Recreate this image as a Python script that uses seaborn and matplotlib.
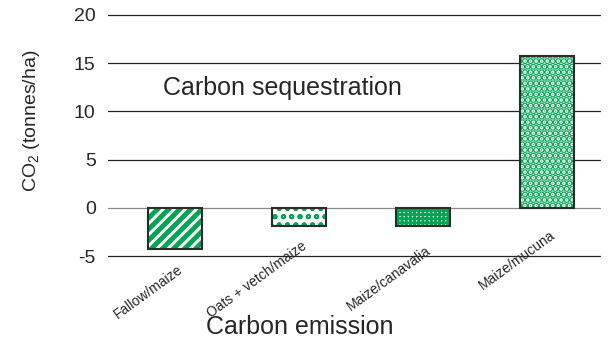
import numpy as np
import pandas as pd
import matplotlib
matplotlib.use('Agg')
import matplotlib.pyplot as plt
import seaborn as sns

# данные с картинки
systems = ['Fallow/maize', 'Oats + vetch/maize', 'Maize/canavalia', 'Maize/mucuna']
co2 = [-4.3, -1.9, -1.9, 15.7]
hatches = ['///', 'oo', '++++', '...']
hatch_lw = [3.5, 1.3, 2.0, 3.4]

green = '#00a651'

sns.set_style('white')
plt.rcParams['font.family'] = ['Liberation Sans', 'DejaVu Sans']
plt.rcParams['mathtext.fontset'] = 'custom'
plt.rcParams['mathtext.rm'] = 'Liberation Sans'
plt.rcParams['mathtext.it'] = 'Liberation Sans'
plt.rcParams['hatch.linewidth'] = 2.2

df = pd.DataFrame({'system': systems, 'co2': co2})

fig = plt.figure(figsize=(6.08, 3.46), dpi=100)
ax = fig.add_axes([0.178, 0.26, 0.809, 0.697])

# заливка штриховкой
sns.barplot(data=df, x='system', y='co2', color='white', width=0.44,
            edgecolor=green, linewidth=0, saturation=1, ax=ax)
for patch, h, lw in zip(ax.patches, hatches, hatch_lw):
    patch.set_hatch(h)
    patch.set_edgecolor(green)
    patch.set_linewidth(0)
    if hasattr(patch, 'set_hatch_linewidth'):
        patch.set_hatch_linewidth(lw)

# контур
sns.barplot(data=df, x='system', y='co2', fill=False, width=0.44,
            edgecolor='#2b2b2b', linewidth=1.5, ax=ax)

ax.set_ylim(-5, 20)
ax.set_xlim(-0.54, 3.43)
ax.set_yticks([-5, 0, 5, 10, 15, 20])
ax.set_yticklabels(['-5', '0', '5', '10', '15', '20'], fontsize=14)
ax.yaxis.grid(True, color='#222222', linewidth=0.9)
ax.set_axisbelow(True)
for gl, v in zip(ax.get_ygridlines(), ax.get_yticks()):
    gl.set_clip_on(False)
    if v == 0:
        gl.set_color('#888888')
for s in ax.spines.values():
    s.set_visible(False)
ax.tick_params(axis='y', length=0, pad=9)

# подписи категорий стоят вручную, на разной высоте
ax.set_xticks(range(len(systems)))
ax.set_xticklabels([])
ax.tick_params(axis='x', length=0)
label_y = [-0.025, 0.07, 0.054, 0.116]
for i, (name, yy) in enumerate(zip(systems, label_y)):
    ax.text(i + 0.02, yy, name, transform=ax.get_xaxis_transform(),
            rotation=36, ha='right', va='top', rotation_mode='anchor',
            fontsize=10)

ax.set_xlabel('Carbon emission', fontsize=18)
ax.xaxis.set_label_coords(0.39, -0.245)
ax.set_ylabel('CO$_2$ (tonnes/ha)', fontsize=14)
ax.yaxis.set_label_coords(-0.135, 0.56)

ax.text(-0.1, 12.4, 'Carbon sequestration', fontsize=18, va='center', ha='left')

fig.savefig('out.png', dpi=100)
